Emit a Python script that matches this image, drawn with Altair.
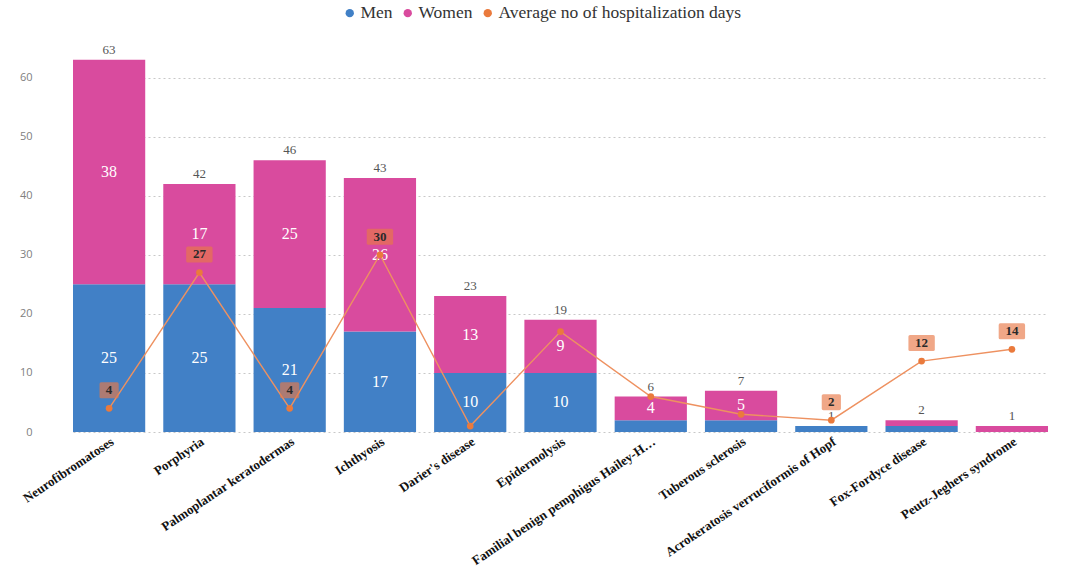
import altair as alt
import pandas as pd

# Patients by disease and sex, with average length of stay
diseases = [
    "Neurofibromatoses",
    "Porphyria",
    "Palmoplantar keratodermas",
    "Ichthyosis",
    "Darier's disease",
    "Epidermolysis",
    "Familial benign pemphigus Hailey-Hailey disease",
    "Tuberous sclerosis",
    "Acrokeratosis verruciformis of Hopf",
    "Fox-Fordyce disease",
    "Peutz-Jeghers syndrome",
]
men = [25, 25, 21, 17, 10, 10, 2, 2, 1, 1, 0]
women = [38, 17, 25, 26, 13, 9, 4, 5, 0, 1, 1]
avg_days = [4, 27, 4, 30, 1, 17, 6, 3, 2, 12, 14]
show_days_label = [True, True, True, True, False, False, False, False, True, True, True]

DAYS = "Average no of hospitalization days"
BLUE, PINK, ORANGE = "#4180C6", "#D94B9E", "#EA7A3C"
SERIF = "Liberation Serif"

rows = []
for d, m, w in zip(diseases, men, women):
    rows.append({"disease": d, "series": "Men", "value": m, "order": 0})
    rows.append({"disease": d, "series": "Women", "value": w, "order": 1})
bars_df = pd.DataFrame(rows)

per_disease = pd.DataFrame({
    "disease": diseases,
    "total": [m + w for m, w in zip(men, women)],
    "days": avg_days,
    "show": show_days_label,
})
per_disease["digits"] = per_disease["days"].astype(str).str.len().astype(str)

x_enc = alt.X(
    "disease:N",
    sort=diseases,
    title=None,
    scale=alt.Scale(range=[37, 1012], paddingInner=0.2, paddingOuter=0),
    axis=alt.Axis(
        labelAngle=326,
        labelFont=SERIF,
        labelFontWeight="bold",
        labelFontSize=13,
        labelColor="#111111",
        labelLimit=224,
        labelPadding=3,
        ticks=False,
        domain=False,
        grid=False,
    ),
)
y_scale = alt.Scale(domain=[0, 65], nice=False)
y_axis = alt.Axis(
    values=[0, 10, 20, 30, 40, 50, 60],
    labelFont="Open Sans",
    labelFontSize=11,
    labelColor="#808080",
    labelPadding=4,
    ticks=False,
    domain=False,
    grid=True,
    gridColor="#C8C8C8",
    gridDash=[2, 3],
    gridWidth=1,
    title=None,
)

color_scale = alt.Scale(domain=["Men", "Women", DAYS], range=[BLUE, PINK, ORANGE])

bars = alt.Chart(bars_df).mark_bar().encode(
    x=x_enc,
    y=alt.Y("value:Q", stack="zero", scale=y_scale, axis=y_axis),
    color=alt.Color(
        "series:N",
        scale=color_scale,
        legend=alt.Legend(
            title=None,
            orient="none",
            legendX=305,
            legendY=-44,
            direction="horizontal",
        ),
    ),
    order=alt.Order("order:Q"),
)

segment_labels = (
    alt.Chart(bars_df)
    .transform_stack(
        stack="value",
        as_=["y0", "y1"],
        groupby=["disease"],
        sort=[alt.SortField("order")],
    )
    .transform_calculate(mid="(datum.y0 + datum.y1) / 2")
    .transform_filter("datum.value >= 4")
    .mark_text(font=SERIF, fontSize=16, color="white", baseline="middle")
    .encode(x=alt.X("disease:N", sort=diseases), y=alt.Y("mid:Q"), text="value:Q")
)

totals = alt.Chart(per_disease).mark_text(
    font=SERIF, fontSize=13, color="#555555", baseline="bottom", dy=-3
).encode(x=alt.X("disease:N", sort=diseases), y="total:Q", text="total:Q")

line = alt.Chart(per_disease).mark_line(
    color="#EE9160", strokeWidth=1.4
).encode(x=alt.X("disease:N", sort=diseases), y="days:Q")

points = alt.Chart(per_disease).mark_point(
    filled=True, size=45, opacity=1
).encode(
    x=alt.X("disease:N", sort=diseases),
    y="days:Q",
    color=alt.datum(DAYS),
)

box_one = ("M-1,-1 L1,-1 Q1.2,-1 1.2,-0.8 L1.2,0.8 Q1.2,1 1,1 L-1,1 "
           "Q-1.2,1 -1.2,0.8 L-1.2,-0.8 Q-1.2,-1 -1,-1 Z")
box_two = ("M-1.45,-1 L1.45,-1 Q1.65,-1 1.65,-0.8 L1.65,0.8 Q1.65,1 1.45,1 L-1.45,1 "
           "Q-1.65,1 -1.65,0.8 L-1.65,-0.8 Q-1.65,-1 -1.45,-1 Z")

day_boxes = (
    alt.Chart(per_disease)
    .transform_filter("datum.show")
    .mark_point(filled=True, size=256, yOffset=-18, color="#E87846", opacity=0.65)
    .encode(
        x=alt.X("disease:N", sort=diseases),
        y="days:Q",
        shape=alt.Shape(
            "digits:N",
            scale=alt.Scale(domain=["1", "2"], range=[box_one, box_two]),
            legend=None,
        ),
    )
)

day_text = (
    alt.Chart(per_disease)
    .transform_filter("datum.show")
    .mark_text(font=SERIF, fontSize=13, fontWeight="bold", color="#2A2A2A",
               baseline="middle", dy=-18)
    .encode(x=alt.X("disease:N", sort=diseases), y="days:Q", text="days:Q")
)

chart = (
    alt.layer(bars, segment_labels, totals, line, points, day_boxes, day_text)
    .properties(
        width=1042,
        height=384,
        autosize=alt.AutoSizeParams(type="none"),
        padding={"left": 36, "top": 48, "right": 0, "bottom": 144},
        background="white",
    )
    .configure_view(stroke=None)
    .configure_legend(
        symbolType="circle",
        symbolSize=70,
        symbolStrokeWidth=0,
        labelFont=SERIF,
        labelFontSize=17.5,
        labelColor="#333333",
        labelLimit=400,
        labelOffset=2,
        columnPadding=6,
    )
)

chart.save("out.html", embed_options={"renderer": "svg", "actions": False})
